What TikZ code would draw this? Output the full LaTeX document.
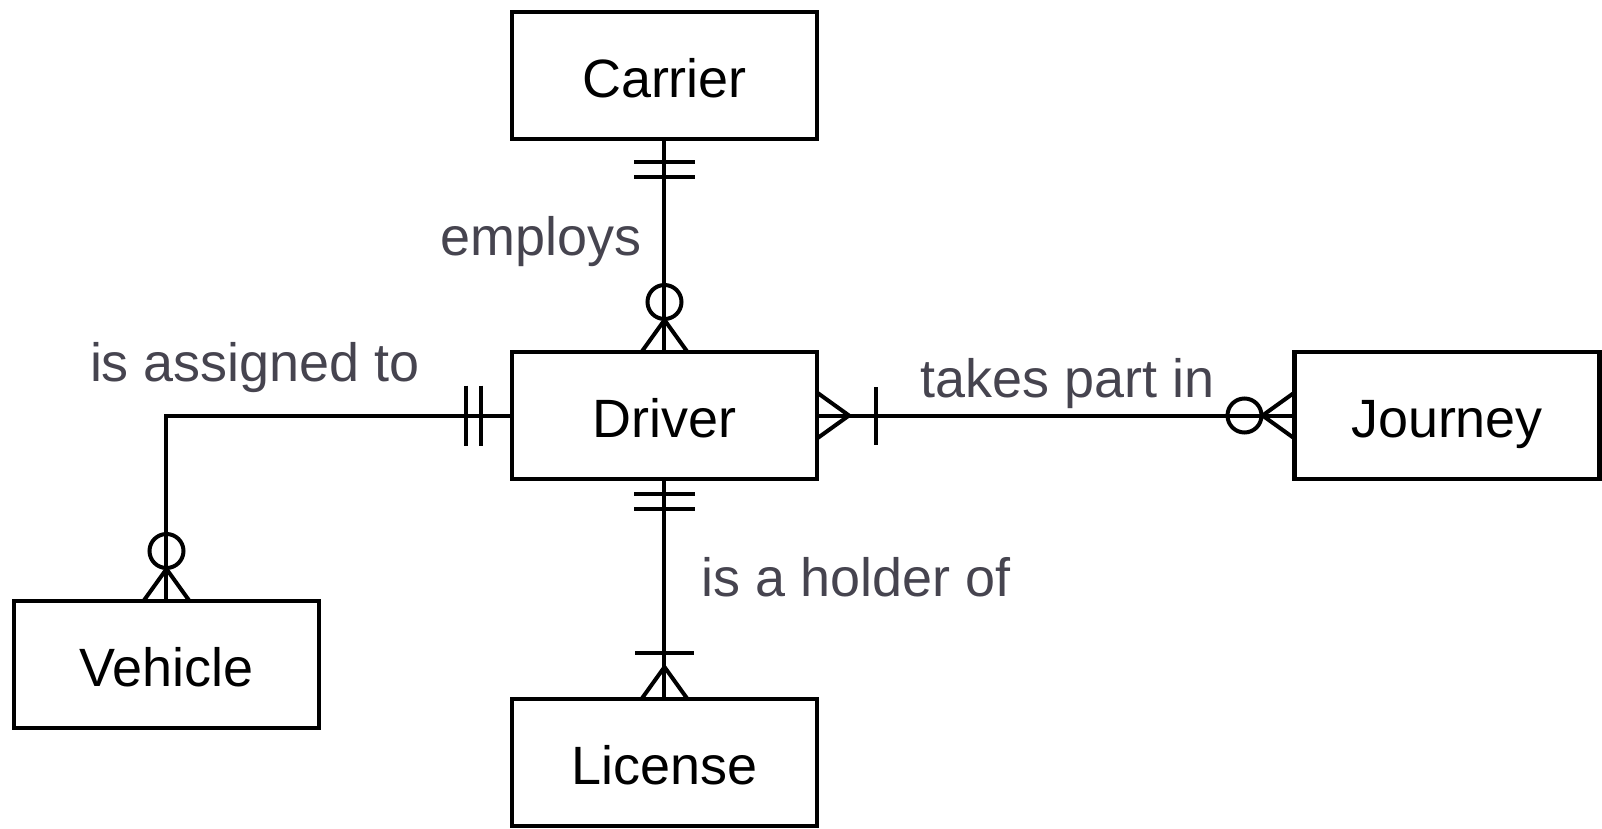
\documentclass[tikz,border=0pt]{standalone}
\usepackage{fontspec}
\setmainfont{Liberation Sans}
\usepackage{tikz}
\usetikzlibrary{calc,positioning}
\definecolor{erink}{HTML}{000000}
\definecolor{ergrey}{HTML}{46444F}
\tikzset{
  erbox/.style={
    draw=erink,
    line width=0.085cm,
    minimum width=6.1cm,
    minimum height=2.54cm,
    inner sep=0pt,
    outer sep=0pt,
    text height=1.06cm,
    text depth=0.2cm,
    font=\fontsize{30.7pt}{36pt}\selectfont
  },
  erline/.style={draw=erink, line width=0.08cm},
  erlabel/.style={
    text=ergrey,
    inner sep=0pt,
    font=\fontsize{30.7pt}{36pt}\selectfont
  },
  % markers: x axis points away from the box
  mandone/.pic={
    \draw[erline, line width=0.085cm] (#1,-0.6) -- (#1,0.6)
      (#1+0.3,-0.6) -- (#1+0.3,0.6);
  },
  zeromany/.pic={
    \draw[erline] (0,0.46) -- (0.64,0) -- (0,-0.46);
    \draw[erline] (1.0,0) circle (0.34);
  },
  onemany/.pic={
    \draw[erline] (0,0.46) -- (0.64,0) -- (0,-0.46);
    \draw[erline, line width=0.085cm] (#1,-0.58) -- (#1,0.58);
  }
}
\begin{document}
\begin{tikzpicture}[node distance=4.26cm]
  \useasboundingbox (-13.29,-8.25) rectangle (18.75,8.31);

  \node[erbox] (driver) {Driver};
  \node[erbox, above=of driver] (carrier) {Carrier};
  \node[erbox, below=4.4cm of driver] (license) {License};
  \node[erbox, right=9.55cm of driver] (journey) {Journey};
  \node[erbox, below left=2.44cm and 3.86cm of driver] (vehicle) {Vehicle};

  \draw[erline] (carrier) -- node[erlabel, pos=0.465, left=0.42cm, yshift=-0.08cm] {employs} (driver);
  \draw[erline] (driver.west) -| node[erlabel, pos=0.372, yshift=0.96cm] {is assigned to} (vehicle.north);
  \draw[erline] (driver) -- node[erlabel, pos=0.525, yshift=0.64cm] {takes part in} (journey);
  \draw[erline] (driver) -- node[erlabel, pos=0.445, right=0.7cm] {is a holder of} (license);

  \pic[rotate=-90] at (carrier.south) {mandone=0.46};
  \pic[rotate=90] at (driver.north) {zeromany};
  \pic[rotate=180] at (driver.west) {mandone=0.62};
  \pic[rotate=90] at (vehicle.north) {zeromany};
  \pic at (driver.east) {onemany=1.18};
  \pic[rotate=180] at (journey.west) {zeromany};
  \pic[rotate=-90] at (driver.south) {mandone=0.30};
  \pic[rotate=90] at (license.north) {onemany=0.92};
\end{tikzpicture}
\end{document}
